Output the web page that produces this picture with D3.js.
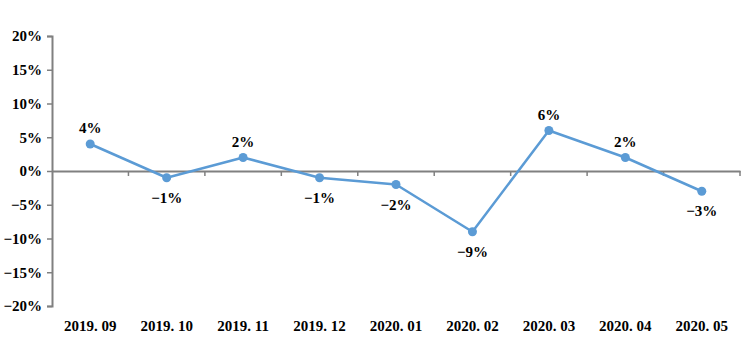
<!DOCTYPE html>
<html>
<head>
<meta charset="utf-8">
<title>monthly change</title>
<script src="https://d3js.org/d3.v7.min.js"></script>
<style>
  body { margin: 0; background: #fff; }
  text { font-family: "Liberation Serif", "DejaVu Serif", serif; font-weight: bold; fill: #000; }
</style>
</head>
<body>
<div id="chart"></div>
<script>
// data
var months = ["2019.09", "2019.10", "2019.11", "2019.12", "2020.01", "2020.02", "2020.03", "2020.04", "2020.05"];
var changes = [4, -1, 2, -1, -2, -9, 6, 2, -3];
var yTicks = [20, 15, 10, 5, 0, -5, -10, -15, -20];

var W = 749, H = 360;
var margin = {top: 36, right: 9, bottom: 54, left: 52};

var svg = d3.select("#chart").append("svg")
  .attr("width", W).attr("height", H);

var x = d3.scaleBand()
  .domain(months)
  .range([margin.left, W - margin.right]);

var y = d3.scaleLinear()
  .domain([-20, 20])
  .range([H - margin.bottom, margin.top]);

var axisColor = "#808080";
var pct = function(d){ return (d < 0 ? "\u2212" + (-d) : d) + "%"; };

// y axis
var yAxis = svg.append("g")
  .attr("transform", "translate(" + margin.left + ",0)")
  .call(d3.axisLeft(y).tickValues(yTicks).tickSize(5).tickPadding(5).tickFormat(pct));
yAxis.select(".domain").attr("stroke", axisColor).attr("stroke-width", 2);
yAxis.selectAll(".tick line").attr("stroke", axisColor).attr("stroke-width", 1.5);
yAxis.selectAll("text").style("font-size", "15px").attr("fill", "#000");

// zero line with category ticks
var xAxis = svg.append("g")
  .attr("transform", "translate(0," + y(0) + ")")
  .call(d3.axisBottom(x).tickSize(0).tickFormat(""));
xAxis.select(".domain").attr("stroke", axisColor).attr("stroke-width", 2);
xAxis.selectAll(".tick").remove();
xAxis.selectAll(".sep")
  .data(months)
  .enter()
  .append("line")
    .attr("x1", function(d){ return x(d) + x.bandwidth(); })
    .attr("x2", function(d){ return x(d) + x.bandwidth(); })
    .attr("y1", 0)
    .attr("y2", 5)
    .attr("stroke", axisColor)
    .attr("stroke-width", 1.5);

// category labels along the bottom
svg.append("g")
  .selectAll("text")
  .data(months)
  .enter()
  .append("text")
    .attr("x", function(d){ return x(d) + x.bandwidth() / 2; })
    .attr("y", H - margin.bottom + 25)
    .attr("text-anchor", "middle")
    .style("font-size", "15px")
    .text(function(d){ return d.replace(".", ". "); });

// the line
var line = d3.line()
  .x(function(d, i){ return x(months[i]) + x.bandwidth() / 2; })
  .y(function(d){ return y(d); });

svg.append("path")
  .datum(changes)
  .attr("fill", "none")
  .attr("stroke", "#5b9bd5")
  .attr("stroke-width", 2.5)
  .attr("stroke-linejoin", "round")
  .attr("d", line);

svg.append("g")
  .selectAll("circle")
  .data(changes)
  .enter()
  .append("circle")
    .attr("cx", function(d, i){ return x(months[i]) + x.bandwidth() / 2; })
    .attr("cy", function(d){ return y(d); })
    .attr("r", 4.5)
    .attr("fill", "#5b9bd5");

// value labels: above for positive, below for negative
svg.append("g")
  .selectAll("text")
  .data(changes)
  .enter()
  .append("text")
    .attr("x", function(d, i){ return x(months[i]) + x.bandwidth() / 2; })
    .attr("y", function(d){ return y(d) + (d >= 0 ? -11 : 25); })
    .attr("text-anchor", "middle")
    .style("font-size", "15px")
    .text(pct);
</script>
</body>
</html>
